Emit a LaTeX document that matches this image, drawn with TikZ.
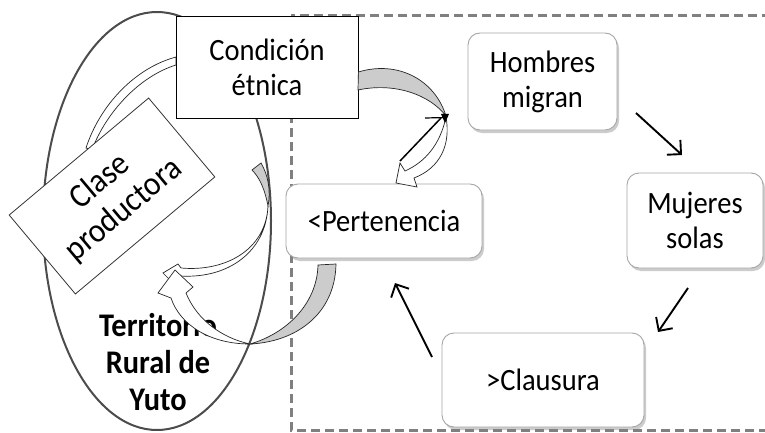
\documentclass[tikz,border=0pt]{standalone}
\usepackage{fontspec}
\setmainfont{Carlito}[FakeStretch=0.92]
\usetikzlibrary{arrows.meta,shadows,shapes.geometric}
\tikzset{
  txt/.style={font=\fontsize{31}{35}\selectfont, align=center},
  rbox/.style={txt, draw=gray!70, line width=0.9pt, rounded corners=12pt, fill=white,
    drop shadow={shadow xshift=2pt, shadow yshift=-3pt, opacity=0.4}, inner sep=0pt},
  sbox/.style={txt, draw=black, line width=0.8pt, fill=white, inner sep=0pt},
  gband/.style={draw=black!85, line width=0.7pt, fill=gray!40},
  wband/.style={draw=black!85, line width=0.7pt, fill=white},
  thinarr/.style={line width=1.9pt, -{Straight Barb[length=10pt, width=20pt, line width=1.9pt]}},
}
\begin{document}
\begin{tikzpicture}[x=1pt, y=-1pt]
\useasboundingbox (0,0) rectangle (765,433);
\fill[white] (0,0) rectangle (765,433);
% dashed frame
\draw[black!50, line width=3pt, dash pattern=on 9pt off 5pt] (291,16) rectangle (775,430);
% ellipse
\node[ellipse, draw=black!70, line width=2pt, minimum width=228pt, minimum height=418pt, inner sep=0pt] (terr) at (157,221) {};
\node[txt, font=\fontsize{33}{37}\selectfont\bfseries] (terrlabel) at (158,362) {Territorio\\Rural de\\Yuto};
% band C (behind Clase)
\draw[wband] (176,57) .. controls (135,68) and (100,105) .. (86,148) -- (92,150) .. controls (106,112) and (140,76) .. (176,65) -- cycle;
% band D
\draw[gband] (252,170) -- (261,163) .. controls (268,175) and (271,190) .. (268,206) .. controls (265,190) and (260,178) .. (252,170) -- cycle;
\draw[wband] (268,206) .. controls (266,250) and (225,272) .. (181,268) -- (178,264) -- (163,273) -- (174,284) -- (180,276) .. controls (228,279) and (266,252) .. (268,206) -- cycle;
% band E
\draw[gband] (336,264) .. controls (335,315) and (295,342) .. (250,344) .. controls (285,334) and (317,305) .. (318,265) -- cycle;
\draw[wband] (250,344) .. controls (210,344) and (180,325) .. (171,298) -- (158,293) -- (175,270) -- (193,287) -- (186,293) .. controls (197,320) and (222,338) .. (250,344) -- cycle;
% boxes
\node[sbox, draw=black!80, rotate=40, minimum width=182pt, minimum height=103pt, font=\fontsize{34}{37}\selectfont] (clase) at (112,196) {Clase\\productora};
\node[sbox, minimum width=182pt, minimum height=102pt] (cond) at (267,67) {Condición\\étnica};
\node[rbox, minimum width=196pt, minimum height=74pt] (pert) at (384,221) {<Pertenencia};
\node[rbox, minimum width=149pt, minimum height=97pt] (homb) at (542.5,81.5) {Hombres\\migran};
\node[rbox, minimum width=136pt, minimum height=95pt] (muj) at (695,220.5) {Mujeres\\solas};
\node[rbox, minimum width=202pt, minimum height=94pt] (claus) at (543,380) {>Clausura};
% band A (gray) and B (white)
\draw[gband] (cond.east |- 0,72) .. controls (398,60) and (435,80) .. (446,116) .. controls (430,95) and (395,82) .. (358,90) -- cycle;
\draw[wband] (446,117) .. controls (451,145) and (440,168) .. (414,178) -- (417,187) -- (396,183) -- (400,163) -- (405,171) .. controls (425,162) and (440,145) .. (446,117) -- cycle;
\draw[line width=1.5pt] (400,161) -- (441,118);
\draw[line width=1.2pt] (425,118) -- (447,117.5);
\fill (441,114) -- (449,114) -- (445,123) -- cycle;
% thin arrows
\coordinate (h1) at (636,113);
\coordinate (m1) at (682,155);
\coordinate (m2) at (688,288);
\coordinate (c1) at (658,332);
\coordinate (c2) at (432,357);
\coordinate (p1) at (395,283);
\draw[thinarr] (h1) -- (m1);
\draw[thinarr] (m2) -- (c1);
\draw[thinarr] (c2) -- (p1);
\end{tikzpicture}
\end{document}
